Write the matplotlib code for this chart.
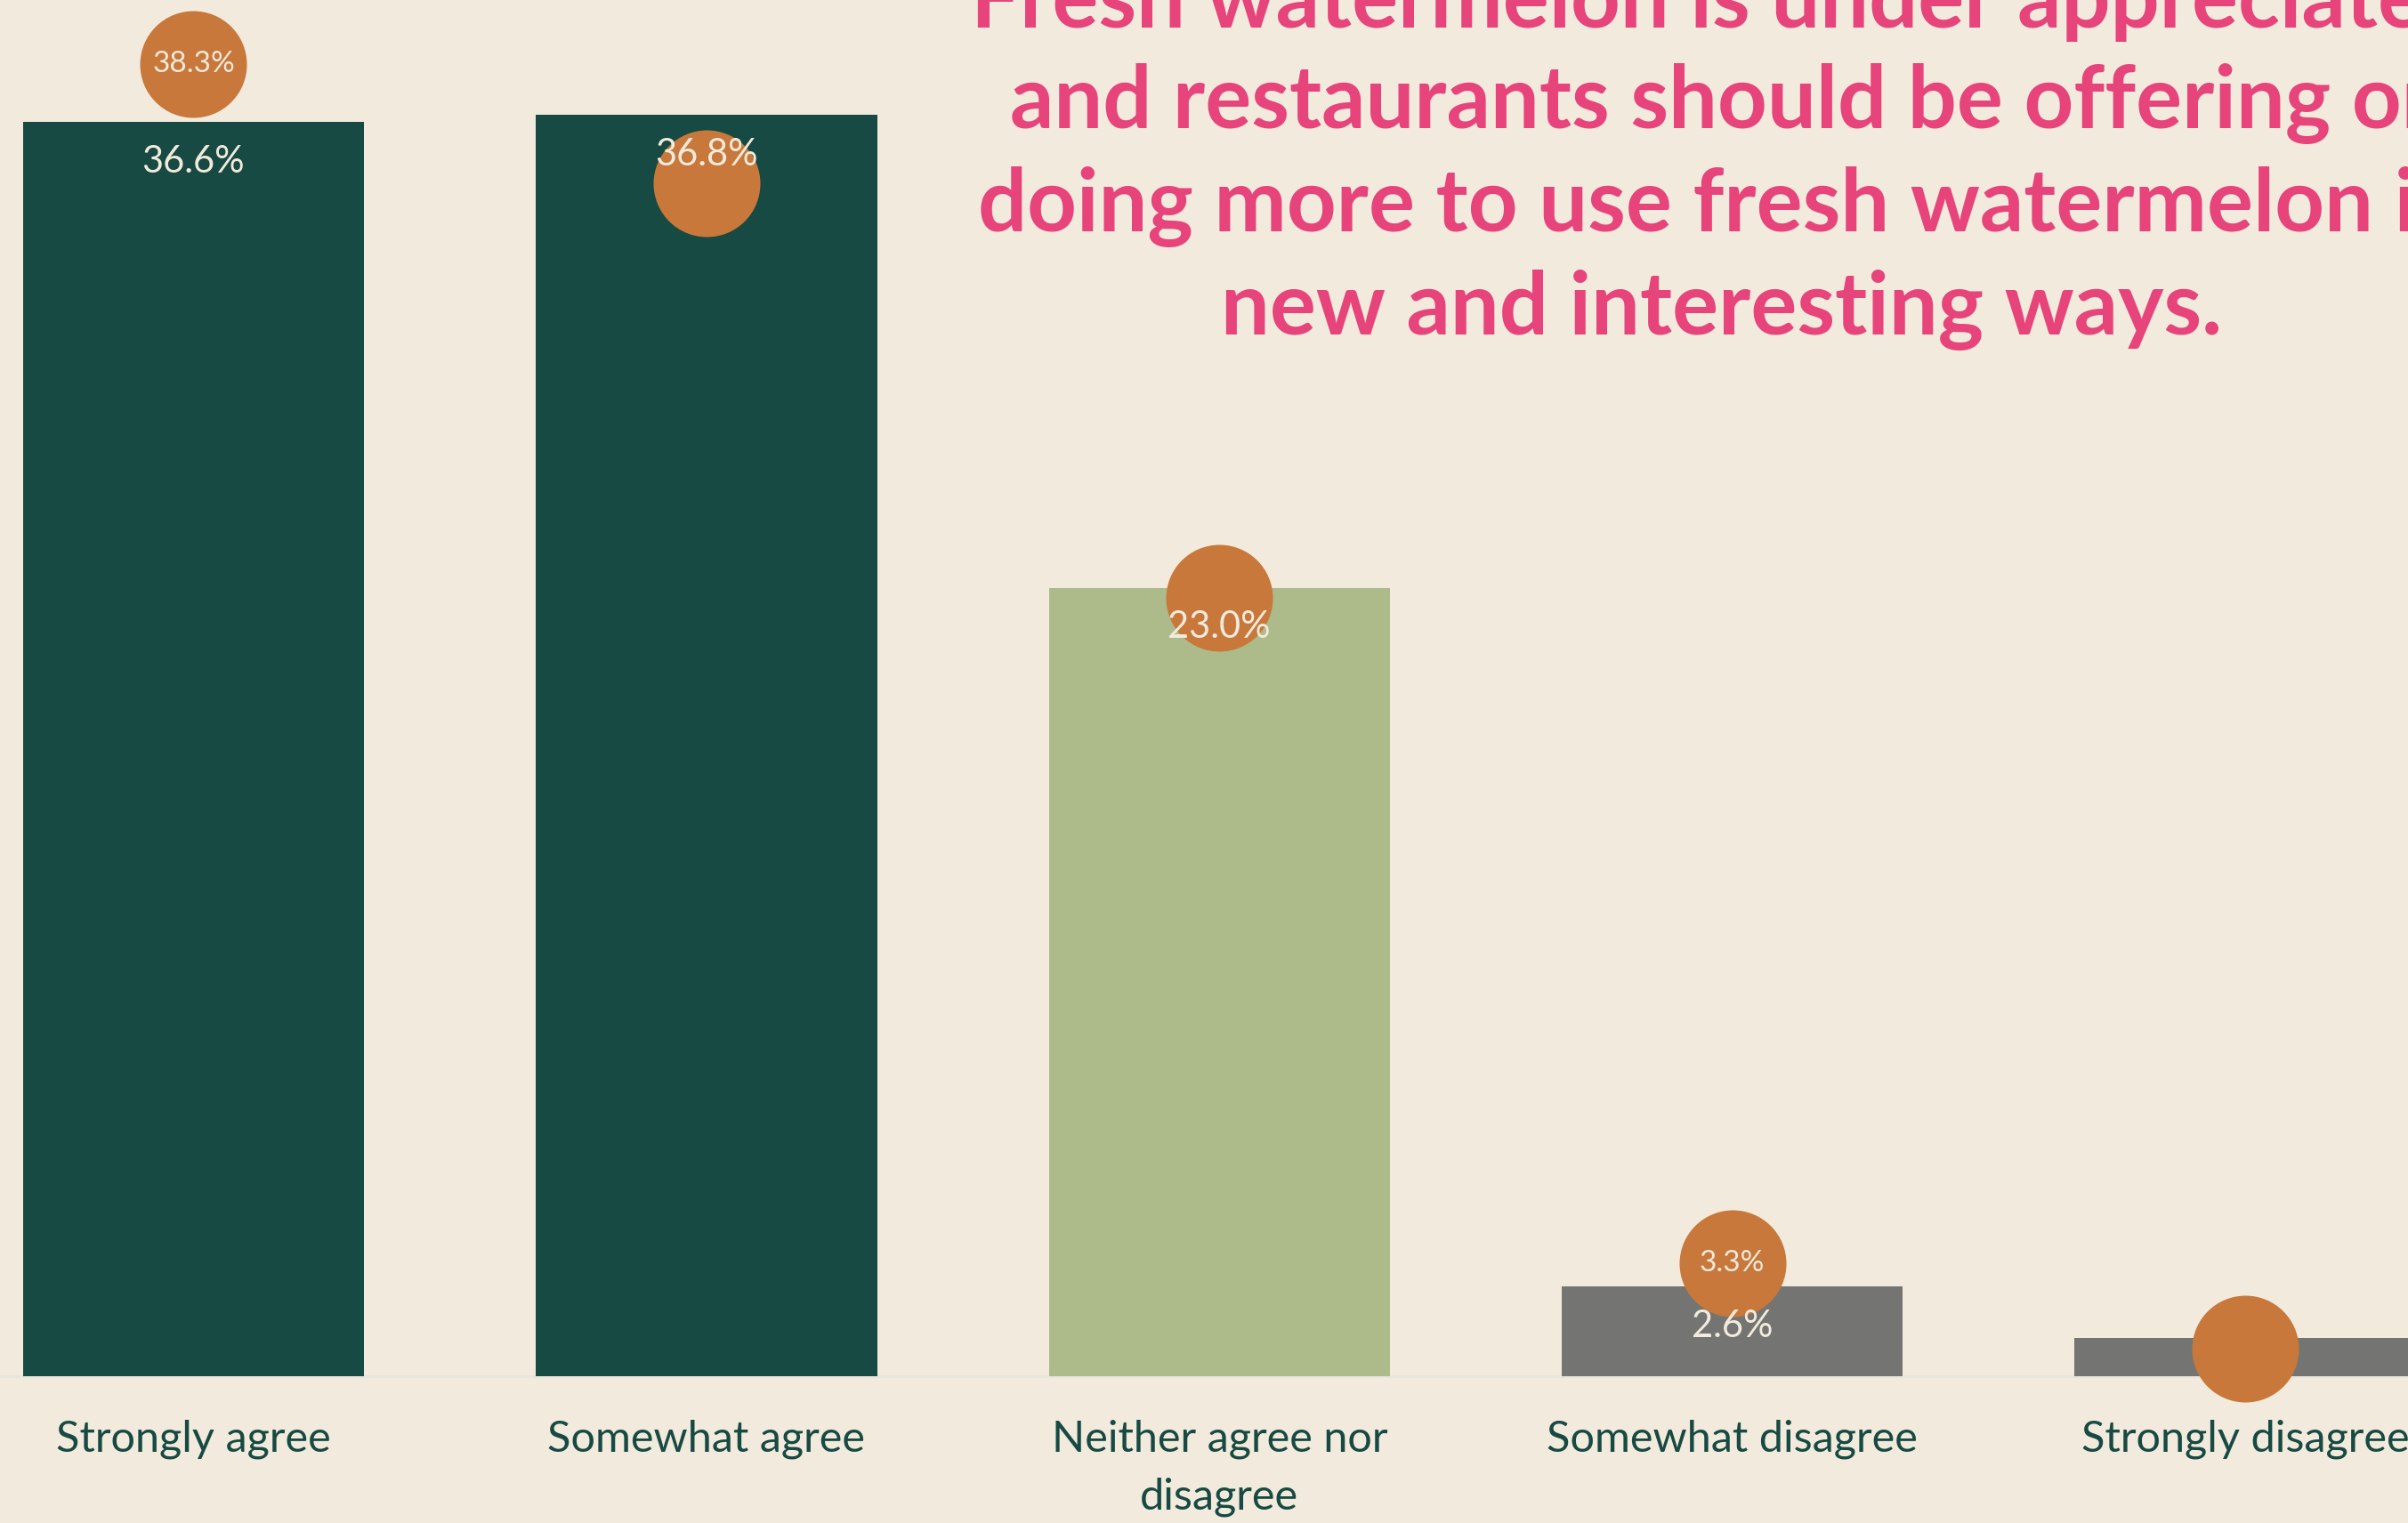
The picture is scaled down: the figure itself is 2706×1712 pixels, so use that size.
import matplotlib.pyplot as plt
import numpy as np

plt.rcParams['font.family'] = ['Lato', 'DejaVu Sans']

categories = ['Strongly agree', 'Somewhat agree', 'Neither agree nor\ndisagree',
              'Somewhat disagree', 'Strongly disagree']
share_pct = [36.6, 36.8, 23.0, 2.6, 1.1]
benchmark_pct = [38.3, 34.8, 22.7, 3.3, 0.8]
bar_labels = ['36.6%', '36.8%', '23.0%', '2.6%', '']
dot_labels = ['38.3%', '', '', '3.3%', '']

bg = '#F2EADC'
bar_colors = ['#164A42', '#164A42', '#ADBA89', '#747572', '#747572']
dot_color = '#C8783A'
text_light = '#F2EADC'
label_dark = '#174A42'
title_pink = '#E6447B'

fig = plt.figure(figsize=(27.06, 17.12), dpi=100, facecolor=bg)
ax = fig.add_axes([0, 0.0966, 1, 0.9034], facecolor=bg)

x = np.arange(len(categories))
bars = ax.bar(x, share_pct, width=0.665, color=bar_colors, zorder=2)
ax.scatter(x, benchmark_pct, s=7465, color=dot_color, zorder=3,
           clip_on=False, linewidths=0)

for rect, lab in zip(bars, bar_labels):
    if lab:
        ax.annotate(lab, (rect.get_x() + rect.get_width() / 2, rect.get_height()),
                    xytext=(0, -32), textcoords='offset points',
                    ha='center', va='center', fontsize=30, color=text_light,
                    zorder=4)

for xi, yi, lab in zip(x, benchmark_pct, dot_labels):
    if lab:
        ax.text(xi, yi, lab, ha='center', va='center', fontsize=24,
                color=text_light, zorder=4)

ax.set_xlim(-0.3773, 4.3173)
ax.set_ylim(0, 40.16)
ax.set_xticks(x, categories, fontsize=35, color=label_dark, linespacing=1.57)
ax.tick_params(axis='x', length=0, pad=35.5)
ax.set_yticks([])
for side in ['top', 'left', 'right']:
    ax.spines[side].set_visible(False)
ax.spines['bottom'].set_color('#E8E4DE')
ax.spines['bottom'].set_linewidth(2)
ax.spines['bottom'].set_zorder(1)

# four-line headline, centred to the right of the bars and running off the top edge
fig.text(1935, 1712 - 376, 'Fresh watermelon is under appreciated\n'
         'and restaurants should be offering or\n'
         'doing more to use fresh watermelon in\n'
         'new and interesting ways.',
         transform=None, ha='center', va='baseline', fontsize=70,
         fontweight='bold', color=title_pink, linespacing=1.34,
         multialignment='center')

fig.savefig('out.png', dpi=100, facecolor=bg)
